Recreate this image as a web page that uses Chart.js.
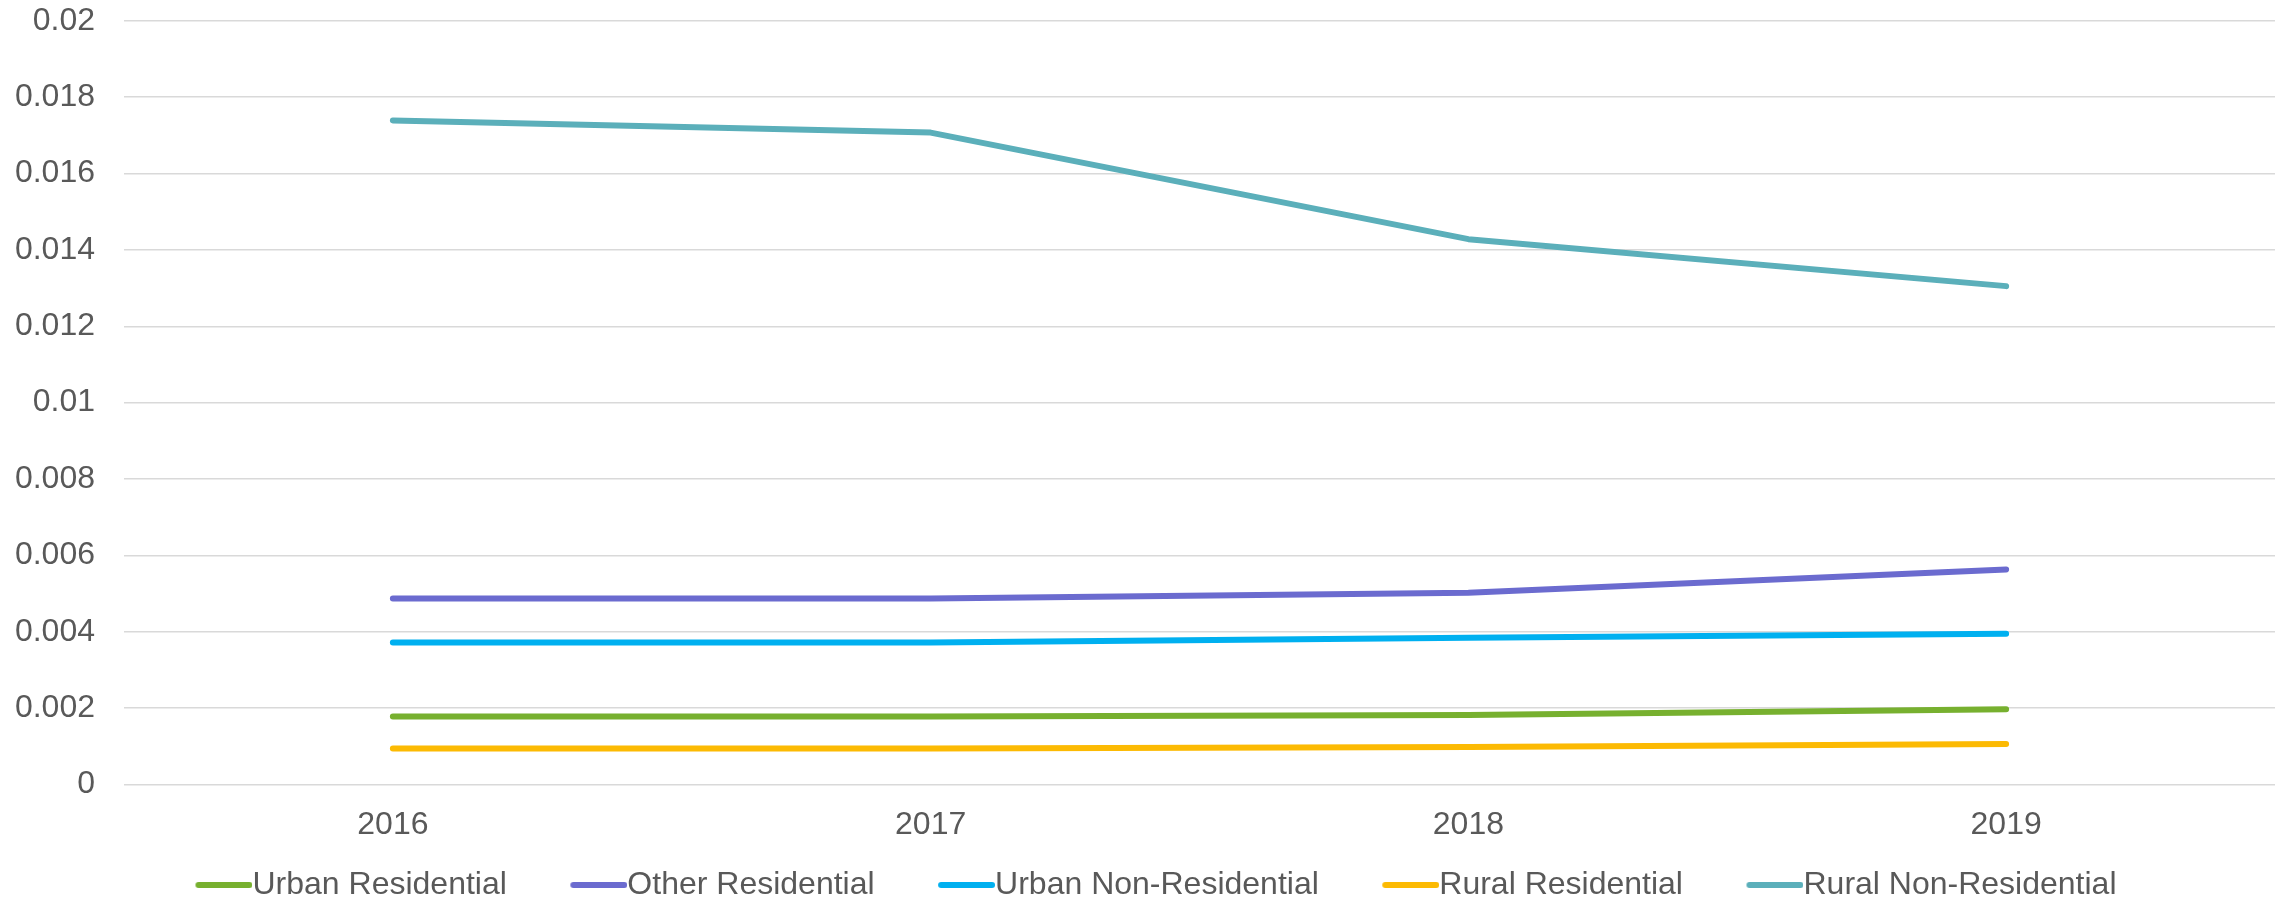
<!DOCTYPE html>
<html>
<head>
<meta charset="utf-8">
<title>Line chart 2016-2019</title>
<script src="https://cdn.jsdelivr.net/npm/chart.js@4/dist/chart.umd.min.js"></script>
<style>
    html, body { margin: 0; padding: 0; background: #ffffff; }
    #chart-wrap { width: 2283px; height: 898px; }
</style>
</head>
<body>
<div id="chart-wrap">
    <canvas id="line-chart" width="2283" height="898"></canvas>
</div>
<script>
// Données du graphique
const years = ['2016', '2017', '2018', '2019'];
const urbanResidential = [0.00178, 0.00178, 0.00182, 0.00197];
const otherResidential = [0.00487, 0.00487, 0.00502, 0.00563];
const urbanNonResidential = [0.00372, 0.00372, 0.00384, 0.00395];
const ruralResidential = [0.00094, 0.00094, 0.00098, 0.00106];
const ruralNonResidential = [0.01739, 0.01707, 0.01428, 0.01305];
const yTickLabels = ['0', '0.002', '0.004', '0.006', '0.008', '0.01', '0.012', '0.014', '0.016', '0.018', '0.02'];

const textColor = '#595959';
const fontFamily = '"Liberation Sans", Arial, sans-serif';
const fontSize = 32;

// Petit trait de légende collé au texte (dessiné dans la partie droite du canvas)
function makeSwatch(color) {
    const c = document.createElement('canvas');
    c.width = 110;
    c.height = 12;
    const g = c.getContext('2d');
    g.strokeStyle = color;
    g.lineWidth = 6;
    g.lineCap = 'round';
    g.beginPath();
    g.moveTo(110 - 57 + 3, 6);
    g.lineTo(110 - 3, 6);
    g.stroke();
    return c;
}

// Construit un dataset pour une série
function makeSeries(label, values, color) {
    return {
        label: label,
        data: values,
        borderColor: color,
        backgroundColor: color,
        borderWidth: 6,
        borderCapStyle: 'round',
        borderJoinStyle: 'round',
        pointRadius: 0,
        pointHoverRadius: 0,
        pointStyle: makeSwatch(color),
        tension: 0,
        fill: false
    };
}

let lineChart;

function initChart() {
    const ctx = document.getElementById('line-chart');
    lineChart = new Chart(ctx, {
        type: 'line',
        data: {
            labels: years,
            datasets: [
                makeSeries('Urban Residential', urbanResidential, '#77b02f'),
                makeSeries('Other Residential', otherResidential, '#6b6bcf'),
                makeSeries('Urban Non-Residential', urbanNonResidential, '#00b0f0'),
                makeSeries('Rural Residential', ruralResidential, '#fcba03'),
                makeSeries('Rural Non-Residential', ruralNonResidential, '#5bafba')
            ]
        },
        options: {
            responsive: false,
            animation: false,
            layout: {
                padding: { top: 0, right: 8, bottom: 0, left: 0 }
            },
            scales: {
                x: {
                    offset: true,
                    grid: { display: false, drawTicks: false },
                    border: { display: false },
                    ticks: {
                        color: textColor,
                        padding: 21,
                        maxRotation: 0,
                        font: { family: fontFamily, size: fontSize }
                    },
                    afterFit: function(scale) { scale.height = 58; }
                },
                y: {
                    min: 0,
                    max: 0.02,
                    grid: { color: '#d9d9d9', lineWidth: 1.4, drawTicks: false },
                    border: { display: false },
                    ticks: {
                        stepSize: 0.002,
                        color: textColor,
                        padding: 29,
                        font: { family: fontFamily, size: fontSize },
                        callback: function(value, index) { return yTickLabels[index]; }
                    },
                    afterFit: function(scale) {
                        scale.width = 124;
                        scale.paddingTop = 20.7;
                        scale.paddingBottom = 0;
                    }
                }
            },
            plugins: {
                legend: {
                    position: 'bottom',
                    maxHeight: 55.5,
                    labels: {
                        usePointStyle: true,
                        pointStyleWidth: 78,
                        padding: 26.5,
                        color: textColor,
                        font: { family: fontFamily, size: fontSize }
                    }
                },
                tooltip: { enabled: false }
            }
        }
    });
}

document.addEventListener('DOMContentLoaded', function() {
    initChart();
});
</script>
</body>
</html>
